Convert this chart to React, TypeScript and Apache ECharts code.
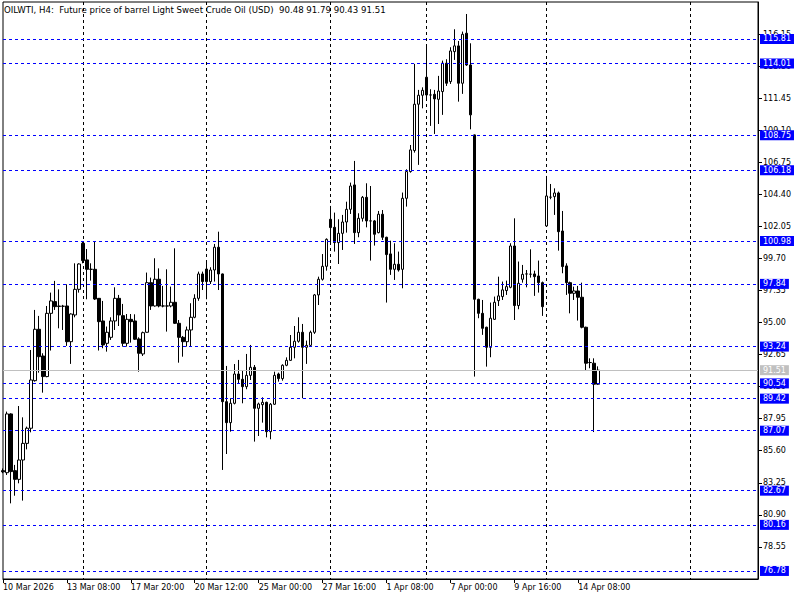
import React, { useEffect, useRef } from "react";
import * as echarts from "echarts";

// OHLC values of the H4 bars
const opens = [
  84.14, 83.99, 88.30, 84.14, 83.50, 84.92, 86.14, 87.25, 90.74, 94.51,
  92.55, 91.04, 95.68, 96.54, 96.18, 96.20, 96.22, 93.60, 95.56, 97.44,
  100.82, 99.60, 98.91, 98.91, 96.78, 95.12, 93.48, 93.92, 95.12, 96.78,
  95.51, 93.48, 95.24, 95.12, 93.80, 92.70, 94.29, 97.93, 96.22, 98.18,
  96.22, 96.22, 96.22, 96.49, 94.95, 93.92, 93.60, 94.46, 95.39, 96.78,
  98.57, 98.93, 98.01, 98.86, 100.53, 98.57, 89.20, 87.66, 89.08, 91.23,
  90.84, 90.30, 91.13, 91.72, 88.71, 88.98, 89.15, 87.00, 89.01, 91.23,
  90.89, 91.87, 92.23, 93.19, 93.63, 94.29, 93.19, 93.33, 94.29, 97.03,
  98.18, 99.13, 102.58, 101.99, 100.87, 101.55, 102.38, 103.31, 105.10, 101.60,
  102.65, 104.19, 102.46, 102.46, 101.60, 102.95, 101.26, 100.04, 98.91, 99.28,
  98.91, 104.12, 106.08, 107.62, 111.02, 111.68, 113.00, 111.70, 111.75, 111.38,
  111.95, 114.03, 112.68, 114.88, 115.30, 112.56, 116.23, 113.90, 108.77, 96.71,
  95.68, 94.66, 93.19, 95.24, 96.61, 96.91, 97.35, 97.59, 100.62, 96.25,
  98.18, 98.57, 98.55, 98.57, 98.42, 97.93, 102.09, 104.20, 104.24, 104.51,
  101.72, 99.16, 97.93, 97.15, 97.32, 96.86, 94.66, 92.07, 92.02, 90.48,
];
const highs = [
  84.30, 88.47, 88.35, 84.56, 88.88, 88.05, 87.37, 92.99, 95.93, 95.49,
  92.75, 96.22, 97.20, 98.06, 97.44, 96.30, 97.81, 95.68, 99.35, 99.35,
  100.95, 100.40, 99.35, 100.94, 96.80, 96.59, 94.71, 95.39, 97.59, 97.03,
  96.37, 95.63, 95.63, 95.61, 93.92, 94.34, 98.67, 98.30, 99.72, 98.98,
  97.69, 98.91, 97.64, 100.45, 95.19, 94.02, 94.71, 96.42, 97.08, 98.74,
  98.74, 99.55, 99.06, 100.77, 101.67, 98.60, 91.82, 89.45, 91.96, 92.26,
  91.48, 92.70, 93.36, 91.89, 89.13, 89.52, 89.20, 89.10, 91.40, 91.33,
  91.94, 92.45, 94.09, 94.75, 95.39, 94.90, 93.68, 94.41, 97.10, 98.37,
  100.03, 101.18, 103.56, 103.07, 102.58, 102.90, 103.87, 105.27, 106.86, 103.02,
  104.29, 105.22, 105.02, 102.53, 103.19, 103.26, 101.30, 101.01, 100.82, 100.21,
  104.54, 106.25, 108.03, 113.98, 112.07, 112.26, 115.37, 112.12, 112.07, 113.10,
  114.22, 114.32, 115.20, 116.52, 115.66, 116.35, 117.64, 115.49, 108.80, 96.75,
  96.66, 94.70, 96.47, 96.91, 98.37, 98.01, 98.08, 100.82, 102.65, 99.48,
  99.23, 98.86, 100.38, 98.81, 99.55, 98.01, 105.76, 105.17, 104.85, 104.61,
  103.19, 99.35, 98.01, 97.64, 97.69, 97.93, 94.70, 92.38, 92.38, 91.79,
];
const lows = [
  83.95, 83.82, 81.74, 82.30, 83.21, 81.94, 85.70, 86.95, 90.67, 91.33,
  89.86, 90.99, 92.95, 95.93, 94.58, 94.46, 93.29, 91.97, 95.39, 97.20,
  99.35, 96.71, 98.08, 96.66, 92.95, 93.12, 92.87, 93.73, 94.46, 94.75,
  93.24, 93.24, 93.53, 93.73, 91.40, 92.55, 94.26, 95.93, 96.17, 96.12,
  96.12, 94.34, 96.12, 94.90, 92.06, 92.50, 93.24, 93.24, 95.32, 96.60,
  97.39, 96.71, 97.83, 98.01, 97.39, 84.19, 85.36, 87.00, 89.00, 90.55,
  89.08, 90.11, 90.79, 86.27, 86.68, 87.66, 86.58, 86.44, 88.96, 90.67,
  90.74, 91.80, 92.20, 92.38, 93.53, 89.45, 91.97, 93.24, 94.17, 96.29,
  98.08, 98.81, 100.77, 100.21, 99.30, 100.33, 101.60, 102.97, 100.77, 101.26,
  102.41, 101.99, 99.55, 100.65, 101.55, 101.06, 96.47, 98.50, 98.13, 98.74,
  97.52, 103.51, 106.00, 107.47, 106.57, 110.72, 111.29, 109.43, 108.84, 109.57,
  110.24, 112.36, 112.51, 114.27, 111.21, 111.78, 113.83, 109.18, 91.04, 95.32,
  94.10, 91.77, 92.46, 95.19, 96.22, 96.66, 97.03, 97.52, 95.19, 95.98,
  97.93, 97.59, 98.30, 96.96, 97.20, 95.49, 102.04, 104.05, 102.90, 100.28,
  98.62, 97.03, 95.68, 96.66, 95.15, 94.58, 91.48, 91.65, 86.97, 90.43,
];
const closes = [
  84.05, 88.30, 84.07, 83.50, 84.92, 86.14, 87.25, 90.79, 94.51, 92.50,
  91.04, 95.68, 96.59, 96.17, 96.22, 96.20, 93.60, 95.63, 97.44, 99.30,
  99.55, 98.91, 98.91, 96.73, 95.07, 93.36, 94.29, 95.12, 96.78, 95.56,
  93.48, 95.24, 95.07, 93.78, 92.75, 94.26, 97.93, 96.22, 98.18, 96.22,
  96.22, 96.22, 96.49, 94.95, 93.92, 93.60, 94.46, 95.39, 96.78, 98.57,
  98.01, 98.01, 98.86, 100.53, 98.57, 89.20, 87.66, 89.08, 91.23, 90.84,
  90.30, 91.13, 91.72, 88.71, 89.03, 89.15, 87.00, 89.01, 91.13, 90.89,
  91.87, 92.23, 93.19, 93.63, 94.29, 93.19, 93.33, 94.29, 97.03, 98.18,
  99.13, 101.11, 101.97, 100.87, 101.55, 102.38, 103.31, 105.02, 101.60, 102.65,
  104.19, 102.46, 102.46, 101.48, 102.95, 101.26, 99.99, 98.91, 99.28, 98.86,
  104.12, 106.08, 107.67, 111.02, 111.68, 112.04, 111.70, 111.70, 111.41, 111.99,
  114.03, 112.56, 114.93, 115.30, 112.56, 116.15, 113.90, 110.24, 96.71, 95.68,
  94.58, 93.19, 95.32, 96.49, 96.96, 97.40, 97.64, 100.62, 96.25, 97.88,
  98.54, 98.57, 98.55, 98.37, 97.93, 96.17, 104.29, 104.20, 104.51, 101.67,
  99.11, 97.93, 97.15, 97.32, 96.86, 94.66, 92.02, 92.07, 90.48, 91.51,
];

const xTickLabels = [
  "10 Mar 2026", "13 Mar 08:00", "17 Mar 20:00", "20 Mar 12:00", "25 Mar 00:00",
  "27 Mar 16:00", "1 Apr 08:00", "7 Apr 00:00", "9 Apr 16:00", "14 Apr 08:00",
];
const yTickValues = [
  78.55, 80.9, 83.25, 85.6, 87.95, 90.3, 92.65, 95.0, 97.35, 99.7,
  102.05, 104.4, 106.75, 109.1, 111.45, 113.8, 116.15,
];
const levelPrices = [
  115.81, 114.01, 108.75, 106.18, 100.98, 97.84, 93.24, 90.54, 89.42, 87.07,
  82.67, 80.16, 76.78,
];
const lastPrice = 91.51;
const gridBars = [20, 51, 82, 106, 136, 172];
const headerText =
  "OILWTI, H4:  Future price of barrel Light Sweet Crude Oil (USD)  90.48 91.79 90.43 91.51";

const SLOTS = 190;
const TICK_EVERY = 16;
const FONT = "DejaVu Sans";
const FS = 8;

export default function App() {
  const ref = useRef<HTMLDivElement>(null);
  useEffect(() => {
    const chart = echarts.init(ref.current as HTMLDivElement, null, { renderer: "svg" });
    const categories = Array.from({ length: SLOTS }, (_, i) => String(i));
    const candles = opens.map((o, i) => [o, closes[i], lows[i], highs[i]]);
    const isTick = (i: number) => i % TICK_EVERY === 0 && i / TICK_EVERY < xTickLabels.length;

    const levelLines = levelPrices.map((p) => ({
      yAxis: p,
      lineStyle: { color: "#0000ff", type: [3, 3], width: 1 },
      label: {
        show: true,
        position: "end",
        distance: 2,
        formatter: () => p.toFixed(2),
        backgroundColor: "#0000ff",
        color: "#ffffff",
        padding: [1, 3, 1, 3],
        fontSize: FS,
        fontFamily: FONT,
      },
    }));
    const lastLine = {
      yAxis: lastPrice,
      lineStyle: { color: "#c0c0c0", type: "solid", width: 1 },
      label: {
        show: true,
        position: "end",
        distance: 2,
        formatter: () => lastPrice.toFixed(2),
        backgroundColor: "#c0c0c0",
        color: "#ffffff",
        padding: [1, 3, 1, 3],
        fontSize: FS,
        fontFamily: FONT,
      },
    };

    chart.setOption({
      animation: false,
      backgroundColor: "#ffffff",
      textStyle: { fontFamily: FONT },
      grid: {
        left: 2,
        right: 42,
        top: 2,
        bottom: 21,
        show: true,
        borderColor: "#000",
        borderWidth: 1,
        backgroundColor: "transparent",
      },
      xAxis: {
        type: "category",
        data: categories,
        boundaryGap: false,
        axisLine: { show: true, lineStyle: { color: "#000", width: 1 } },
        axisTick: {
          show: true,
          interval: (i: number) => isTick(i),
          length: 4,
          lineStyle: { color: "#000" },
        },
        axisLabel: {
          interval: (i: number) => isTick(i),
          formatter: (v: string) => xTickLabels[Number(v) / TICK_EVERY] ?? "",
          align: "left",
          margin: 4,
          fontSize: FS,
          fontFamily: FONT,
          color: "#000",
        },
        splitLine: {
          show: true,
          interval: (i: number) => gridBars.includes(i),
          lineStyle: { color: "#000", type: [3, 3], width: 1 },
        },
      },
      yAxis: {
        type: "value",
        position: "right",
        min: 76.19,
        max: 118.52,
        axisLine: { show: true, lineStyle: { color: "#000", width: 1 } },
        axisTick: {
          show: true,
          length: 4,
          customValues: yTickValues,
          lineStyle: { color: "#000" },
        },
        axisLabel: {
          show: true,
          customValues: yTickValues,
          formatter: (v: number) => v.toFixed(2),
          margin: 5,
          fontSize: FS,
          fontFamily: FONT,
          color: "#000",
        },
        splitLine: { show: false },
      },
      graphic: [
        {
          type: "text",
          left: 4,
          top: 5,
          z: 100,
          style: { text: headerText, font: `8.6px "${FONT}"`, fill: "#000" },
        },
      ],
      series: [
        {
          type: "candlestick",
          data: candles,
          barWidth: 3,
          itemStyle: {
            color: "#ffffff",
            color0: "#000000",
            borderColor: "#000000",
            borderColor0: "#000000",
            borderWidth: 1,
          },
          emphasis: { disabled: true },
          markLine: {
            silent: true,
            symbol: ["none", "none"],
            animation: false,
            data: [...levelLines, lastLine],
          },
        },
      ],
    });
    return () => chart.dispose();
  }, []);
  return (
    <div
      ref={ref}
      style={{ position: "fixed", left: 0, top: 0, width: 800, height: 600, background: "#fff" }}
    />
  );
}
